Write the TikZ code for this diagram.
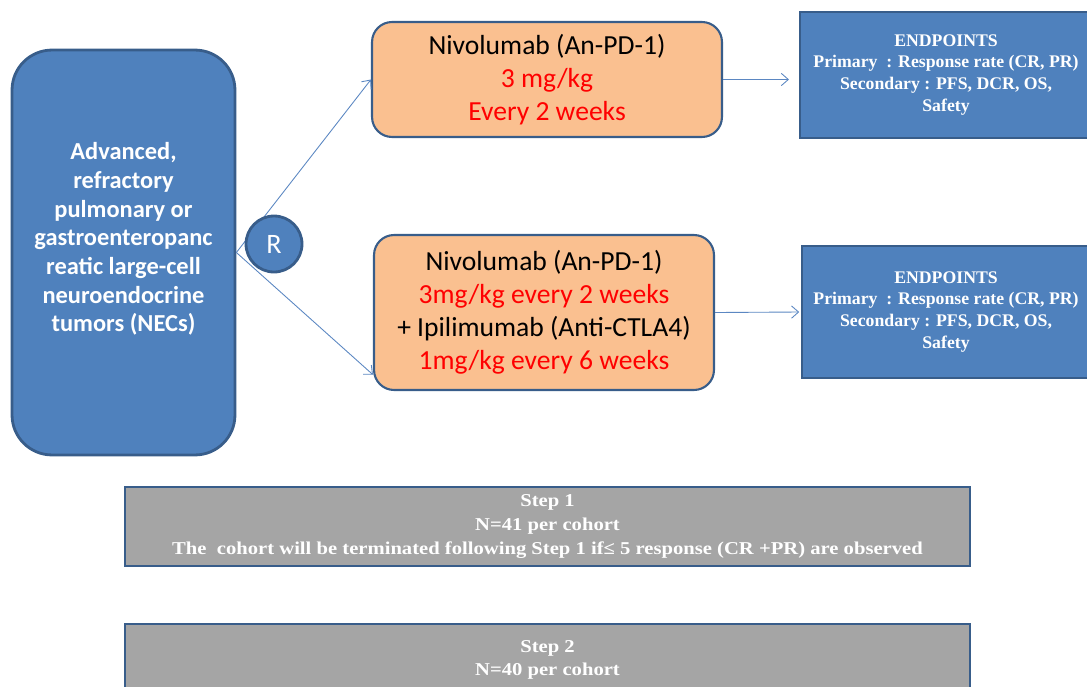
\documentclass[tikz,border=0pt]{standalone}
\usepackage{fontspec}
\setmainfont{Carlito}
\newfontfamily\timesfont{Liberation Serif}
\usetikzlibrary{positioning, arrows.meta}
\definecolor{boxblue}{HTML}{4F81BD}
\definecolor{edgeblue}{HTML}{385D8A}
\definecolor{armorange}{HTML}{FAC090}
\definecolor{stepgray}{HTML}{A5A5A5}
\definecolor{linkblue}{HTML}{5B87C2}

\begin{document}
\begin{tikzpicture}[x=0.02cm, y=-0.02cm,
NecStyle/.style={draw=edgeblue, fill=boxblue, line width=1.6pt,
                rounded corners=0.8cm, minimum width=4.46cm, minimum height=8.1cm},
NecText/.style={text=white, align=center, font=\bfseries\fontsize{13.9}{16.3}\selectfont},
RandStyle/.style={circle, draw=edgeblue, fill=boxblue, line width=1.6pt,
                minimum size=1.12cm, inner sep=0pt, text=white,
                font=\fontsize{16}{18}\selectfont},
ArmStyle/.style={draw=edgeblue, fill=armorange, line width=1.2pt,
                rounded corners=0.4cm, align=center,
                font=\fontsize{15.7}{18.7}\selectfont},
EndStyle/.style={draw=edgeblue, fill=boxblue, line width=1.2pt, text=white,
                align=center, font=\timesfont\bfseries\fontsize{10.1}{12.5}\selectfont},
StepStyle/.style={draw=edgeblue, fill=stepgray, line width=1.2pt, text=white,
                minimum width=16.9cm, align=center, outer sep=0pt,
                font=\timesfont\bfseries\fontsize{10.3}{13.6}\selectfont},
LinkStyle/.style={draw=linkblue, line width=0.5pt,
                -{Straight Barb[length=4pt, width=7pt]}},]
\useasboundingbox (0,0) rectangle (1087,686);
\clip (0,0) rectangle (1087,686);

\node [NecStyle] at (123.5, 252.5) (nec) {};
\node [NecText] at (123.5, 239) (necText) {Advanced,\\ refractory\\ pulmonary or\\
  gastroenteropanc\\ reatic large-cell\\ neuroendocrine\\ tumors (NECs)};

\node [ArmStyle, minimum width=7cm, minimum height=2.3cm] at (547, 79.5) (armA)
  {Nivolumab (An-PD-1)\\ \textcolor{red}{3 mg/kg}\\ \textcolor{red}{Every 2 weeks}};
\node [ArmStyle, minimum width=6.8cm, minimum height=3.1cm] at (544, 312.5) (armB)
  {Nivolumab (An-PD-1)\\ \textcolor{red}{3mg/kg every 2 weeks}\\
   + Ipilimumab (Anti-CTLA4)\\ \textcolor{red}{1mg/kg every 6 weeks}};

\node [EndStyle, minimum width=5.84cm, minimum height=2.52cm] at (946, 75) (endA)
  {ENDPOINTS\\ Primary\ \ : Response rate (CR, PR)\\ Secondary : PFS, DCR, OS,\\ Safety};
\node [EndStyle, minimum width=5.76cm, minimum height=2.64cm] at (946, 312) (endB)
  {ENDPOINTS\\ Primary\ \ : Response rate (CR, PR)\\ Secondary : PFS, DCR, OS,\\ Safety};

\node [StepStyle, minimum height=1.58cm] at (547.5, 526.5) (step1)
  {\scalebox{1.14}[1]{Step 1}\\ \scalebox{1.14}[1]{N=41 per cohort}\\
   \scalebox{1.14}[1]{The\ \ cohort will be terminated following Step 1 if≤ 5 response (CR +PR) are observed}};
\node [StepStyle, minimum height=1.44cm, below=1.16cm of step1] (step2)
  {\scalebox{1.14}[1]{Step 2}\\ \scalebox{1.14}[1]{N=40 per cohort}};

\draw [LinkStyle] (nec.east)--(armA.west);
\draw [LinkStyle] (nec.east)--(armB.200);
\draw [LinkStyle, shorten >=0.2cm] (armA.east)--(armA.east -| endA.west);
\draw [LinkStyle, shorten >=1pt] (armB.east)--(endB.west);

\node [RandStyle] at (274, 244) (rand) {R};
\end{tikzpicture}
\end{document}
